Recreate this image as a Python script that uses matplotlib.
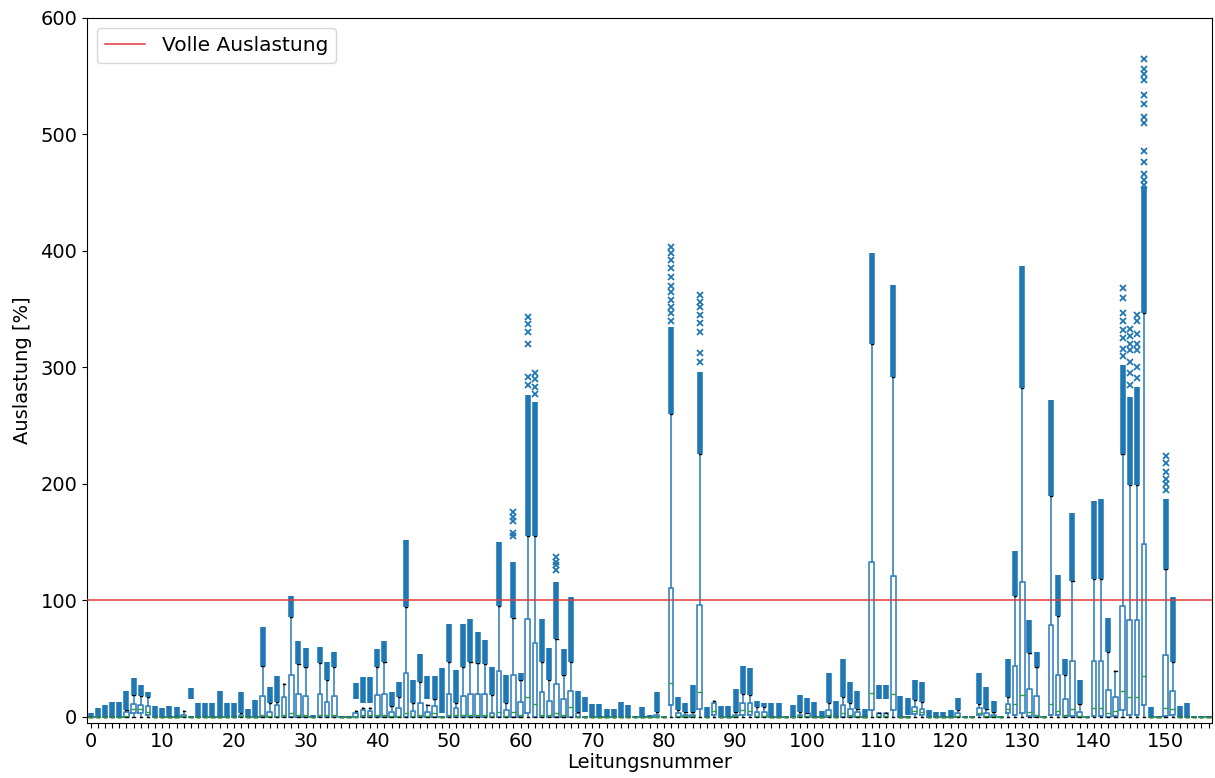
import numpy as np
import matplotlib
matplotlib.use("Agg")
import matplotlib.pyplot as plt

# Per-line utilisation statistics [%]: box quartiles, median, upper whisker,
# and the range covered by the densely packed outliers above it.
q1 = [0, 0, 0, 0, 0, 0, 3, 3, 1.5, 0,
      0, 0, 0, 0, 0, 0, 0, 0, 0, 0,
      0, 0, 0, 0, 0, 0, 0, 0, 0, 0,
      0, 0, 0, 0, 0, 0, 0, 0, 0, 0,
      0, 0, 0, 0, 0, 0, 0, 0, 0, 0,
      0, 0, 0, 0, 0, 0, 0, 0, 0, 0,
      0, 3, 0, 0, 0, 0, 0, 0, 0, 0,
      0, 0, 0, 0, 0, 0, 0, 0, 0, 0,
      0, 10, 0, 0, 0, 6.6, 0, 1.4, 0, 0,
      0, 1.4, 1.4, 0, 0, 0, 0, 0, 0, 0,
      0, 0, 0, 0, 0, 0, 0, 0, 0, 5.8,
      0, 0, 5.8, 0, 0, 2.3, 1.4, 0, 0, 0,
      0, 0, 0, 0, 1.4, 0, 0, 0, 2.9, 1.4,
      3.5, 0.6, 0, 0, 1.4, 1.4, 0, 0.6, 0, 0,
      0.6, 0.6, 0, 0.6, 6, 1.4, 1.4, 10, 0, 0,
      0.6, 2, 0, 0, 0, 0, 0]
med = [0, 0, 0, 0, 0, 1, 7, 7, 4, 0,
       0, 0, 0, 1, 0, 0, 0, 0, 0, 0,
       0, 1, 0, 0, 2, 1, 1, 2, 3, 2,
       2, 0, 2, 2, 2, 0, 0, 0, 2, 2,
       2, 2, 1, 1, 3, 1, 2, 1, 3, 0,
       2, 2, 2, 2, 2, 2, 1, 4, 1, 4,
       2, 17, 11, 2, 2, 3, 2, 8.6, 0, 0,
       0, 0, 0, 0, 0, 0, 0, 0, 0, 0,
       0, 29, 1, 1, 1, 21.6, 0, 5, 0, 0,
       1, 6, 5, 1, 1, 0, 0, 0, 0, 1,
       1, 0, 0, 2, 0, 3, 2, 1, 0, 20.7,
       1, 1, 20, 0, 0, 5, 4, 0, 0, 0,
       0, 1, 0, 0, 3, 1, 1, 0, 7, 10.7,
       18.7, 4, 2, 0, 11, 5, 2, 7, 1, 0,
       7.8, 7.8, 3, 5, 22.5, 16.7, 16.7, 35, 0, 0,
       7.8, 7, 0, 0, 0, 0, 0]
q3 = [0, 0, 0, 0, 0, 4, 11, 10, 9, 0,
      0, 0, 0, 2, 0, 0, 0, 0, 0, 0,
      0, 2, 0, 0, 18, 4, 10, 17, 36, 20,
      18, 0, 20, 13, 18, 0, 0, 3, 6, 5,
      19, 20, 4, 8, 38, 5, 12, 4, 9, 0,
      20, 8, 18, 20, 20, 20, 3.5, 39.5, 6, 36,
      13, 83.6, 63, 21, 13.5, 28, 15, 22.5, 3, 0,
      0, 0, 0, 0, 0, 0, 0, 0, 0, 2,
      0, 111, 3.5, 2, 2, 96, 0, 11.5, 0, 0,
      2, 12, 12, 4, 4, 0, 0, 0, 0, 2,
      3, 0, 0, 6.3, 0, 10, 7, 4, 0, 132.6,
      3, 3, 121, 0, 0, 8.6, 7, 0, 0, 0,
      0, 3, 0, 0, 7.2, 3, 2, 0, 10.7, 43.8,
      116, 23.6, 18, 0, 78.7, 36, 15, 48, 4.3, 0,
      48, 48, 23, 17.3, 95.4, 83.3, 83.3, 148, 0, 0,
      52.7, 22, 0, 0, 0, 0, 0]
whisker_hi = [0, 0, 0, 0, 0, 6, 19, 18, 17, 0,
              0, 0, 0, 5, 0, 0, 0, 0, 0, 0,
              0, 3, 0, 0, 44, 11.5, 13, 28, 86, 45,
              43, 0, 46, 32, 43, 0, 0, 5, 8, 8,
              43, 47.5, 9.5, 17, 94, 11.5, 30, 10, 15, 0,
              47, 11.5, 43, 47.5, 46, 45.5, 19, 95, 12, 85,
              32, 155, 155, 47.5, 32, 67, 36, 47.5, 4, 0,
              0, 0, 0, 0, 0, 0, 0, 0, 0, 4,
              0, 260, 6, 4, 4, 226, 0, 13.5, 0, 0,
              4, 20, 19, 8.6, 8.6, 0, 0, 0, 0, 4,
              3, 0, 0, 11.5, 0, 17, 11.5, 7, 0, 320,
              3, 3, 292, 0, 0, 14.4, 13, 0, 0, 0,
              0, 5.8, 0, 0, 10.7, 7, 4, 0, 17, 104,
              282, 55, 43, 0, 190, 86.5, 36, 117, 11, 0,
              118, 118, 56, 39, 226, 199, 199, 347, 0, 0,
              127, 47.5, 0, 0, 0, 0, 0]
flier_lo = [0.5, 1, 1, 1, 1, 6, 19, 18, 17, 1,
            1, 1, 1, 0, 15, 1, 1, 1, 1, 1,
            1, 3, 1, 1, 44, 11.5, 13, 0, 86, 45,
            43, 0.5, 46, 32, 43, 0, 0, 15, 11.5, 11.5,
            43, 47.5, 9.5, 17, 94, 11.5, 30, 15, 15, 3,
            47, 11.5, 43, 47.5, 46, 45.5, 19, 95, 12, 85,
            32, 155, 155, 47.5, 32, 67, 36, 47.5, 4, 4,
            1, 1, 1, 1, 1, 1, 0, 1, 0.5, 4,
            0, 260, 6, 4, 4, 226, 1, 0, 1, 1,
            4, 20, 19, 8.6, 8.6, 1, 1, 0, 1, 4,
            3, 1, 1, 11.5, 1, 17, 11.5, 7, 1, 320,
            15.5, 15.5, 292, 1, 1.4, 14.4, 13, 1, 0.5, 0.5,
            1, 5.8, 0, 0, 10.7, 7, 4, 0, 17, 104,
            282, 55, 43, 0, 190, 86.5, 36, 117, 11, 0,
            118, 118, 56, 0, 226, 199, 199, 347, 1, 0,
            127, 47.5, 1, 1, 0, 0, 0]
flier_hi = [3, 8, 10, 13, 13, 22, 33, 27, 21, 9.5,
            8, 9.5, 8.6, 0, 25, 12, 12, 11.5, 22.5, 11.5,
            11.5, 21.6, 6.6, 14.4, 77, 26, 35, 0, 104, 65,
            59, 1.5, 60, 47, 56, 0, 0, 29, 34, 34,
            58, 65, 21.6, 30, 152, 32, 54, 35, 35, 42,
            80, 40, 80, 84, 73, 66, 42.6, 150, 36, 133,
            37.5, 276, 270, 84, 59, 116, 58, 103, 22, 17,
            10.7, 10.7, 7, 7, 12.4, 9.8, 0, 8.6, 1.5, 21.6,
            0, 335, 17, 12, 27, 296, 8.6, 0, 9.5, 9.5,
            24, 44, 42, 14, 12, 11.5, 11.5, 0, 10, 19,
            16, 12.4, 5, 38, 13.5, 50, 30, 22, 7, 398,
            27, 27, 371, 18, 16, 31.7, 30, 5.8, 4, 4,
            6.3, 16, 0, 0, 37.5, 26, 13.5, 0, 50, 142,
            387, 83, 56, 0, 272, 121.6, 50, 175, 31.7, 0,
            185, 187, 85, 0, 302, 275, 283, 455, 8.6, 0,
            187, 103, 9.5, 12, 0, 0, 0]

# Isolated outliers above the dense outlier range
sparse_lines = [59, 61, 62, 65, 81, 85, 144, 145, 146, 147, 150]
sparse_values = [
    [155, 158, 168, 172, 176],
    [285, 292, 320, 330, 337, 343],
    [277, 283, 290, 295],
    [126, 130, 133, 137],
    [340, 347, 352, 358, 365, 370, 378, 385, 392, 398, 403],
    [305, 312, 330, 338, 345, 352, 356, 362],
    [310, 316, 325, 332, 340, 347, 360, 368],
    [285, 295, 305, 315, 320, 327, 333],
    [291, 300, 315, 320, 329, 340, 345],
    [457, 461, 466, 476, 486, 510, 515, 526, 534, 547, 552, 556, 565],
    [195, 200, 204, 210, 218, 224],
]

full_load = 100
x_labels = [str(i) if i % 10 == 0 else "" for i in range(len(q1))]

fig = plt.figure(figsize=(12.15, 7.78), dpi=100)
ax = fig.add_axes([0.0716, 0.0711, 0.926, 0.9058])

n = len(q1)
pos = np.arange(n)
stats = [dict(q1=q1[i], med=med[i], q3=q3[i], whislo=0.0, whishi=whisker_hi[i],
              fliers=[]) for i in range(n)]

blue = "#1f77b4"
box_edge = "#3a84c0"
ax.bxp(stats, positions=pos, widths=0.65, showfliers=False, manage_ticks=False,
       boxprops=dict(color=box_edge, lw=1.2),
       whiskerprops=dict(color=box_edge, lw=1.2),
       capprops=dict(color="black", lw=1.0),
       medianprops=dict(color="#2ca02c", lw=1.0))

# dense outliers drawn as solid stacks of markers
fl = np.array(flier_lo, dtype=float)
fh = np.array(flier_hi, dtype=float)
mask = fh > fl
ax.vlines(pos[mask], fl[mask], fh[mask], color=blue, lw=4.0, zorder=3,
          capstyle="butt")
for line, vals in zip(sparse_lines, sparse_values):
    ax.plot([line] * len(vals), vals, "x", color=blue, ms=3.8, mew=1.3, zorder=3)

ax.axhline(full_load, color="#e0393b", lw=1.1, label="Volle Auslastung", zorder=4)

ax.set_xlim(-0.5, n - 0.5)
ax.set_ylim(-5, 600)
ax.set_xticks(pos)
ax.set_xticklabels(x_labels)
ax.set_yticks(np.arange(0, 601, 100))
ax.tick_params(labelsize=14)
ax.set_xlabel("Leitungsnummer", fontsize=14, labelpad=1)
ax.set_ylabel("Auslastung [%]", fontsize=14, labelpad=6)
ax.legend(loc="upper left", fontsize=14.5)

fig.savefig("out.png", dpi=100)
